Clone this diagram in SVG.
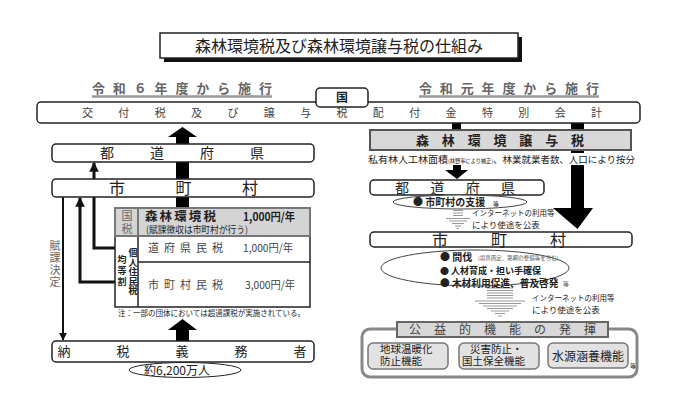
<svg xmlns="http://www.w3.org/2000/svg" width="700" height="402" viewBox="0 0 700 402">
<style>
text{font-family:"Noto Sans CJK JP","Noto Sans CJK SC",sans-serif;fill:#222}
.box{fill:#fff;stroke:#222;stroke-width:1.5}
.gray{fill:#666}
.mid{fill:#444}
.b{font-weight:bold}
.v{writing-mode:vertical-rl}
.stripe{stroke:#999;stroke-width:1}
.thin{fill:none;stroke:#111;stroke-width:2}
.thick{fill:none;stroke:#111;stroke-width:3}
.blk{fill:#000}
.inner{fill:#e2e2e2;stroke:#777;stroke-width:1.5}
</style>
<defs>
<marker id="ah" viewBox="0 0 10 10" refX="9" refY="5" markerWidth="4" markerHeight="4" orient="auto"><path d="M0,0 L10,5 L0,10 z" fill="#111"/></marker>
<marker id="ah2" viewBox="0 0 10 10" refX="9" refY="5" markerWidth="3.2" markerHeight="3.2" orient="auto"><path d="M0,0 L10,5 L0,10 z" fill="#111"/></marker>
</defs>
<rect width="700" height="402" fill="#fff"/>

<g id="title">
<rect x="164" y="37" width="358" height="25" fill="#111"/>
<rect x="160" y="33" width="358" height="25" class="box"/>
<text x="339" y="51.5" font-size="16" text-anchor="middle" fill="#111">森林環境税及び森林環境譲与税の仕組み</text>
</g>

<g id="headings">
<text x="92" y="93" font-size="13" class="gray b" textLength="180" lengthAdjust="spacing">令和６年度から施行</text>
<line x1="92" y1="96.5" x2="272" y2="96.5" stroke="#999" stroke-width="2.5"/>
<text x="419" y="93" font-size="13" class="gray b" textLength="180" lengthAdjust="spacing">令和元年度から施行</text>
<line x1="419" y1="96.5" x2="599" y2="96.5" stroke="#999" stroke-width="2.5"/>
</g>

<g id="connectors">
<polygon class="blk" points="176,208 176,137 168,137 182.5,127 197,137 189,137 189,208"/>
<polygon class="blk" points="176,341 176,330 168,330 182.5,319 197,330 189,330 189,341"/>
<line x1="63" y1="197" x2="63" y2="340" class="thin" marker-end="url(#ah)"/>
<polyline points="115,282 80,282 80,198" class="thick" marker-end="url(#ah2)"/>
<polyline points="115,248 94,248 94,163" class="thick" marker-end="url(#ah2)"/>
<rect x="452" y="123" width="9" height="7" class="blk"/>
<polygon class="blk" points="571,123 584,123 584,208 593,208 577.5,229 553,208 571,208"/>
<polygon class="blk" points="453,164 461,164 461,170 468,170 457,179 445,170 453,170"/>
<g class="stripe">
<line x1="453" y1="208" x2="463" y2="208"/><line x1="453" y1="210.5" x2="463" y2="210.5"/><line x1="453" y1="213" x2="463" y2="213"/><line x1="453" y1="215.5" x2="463" y2="215.5"/>
<line x1="446" y1="218.5" x2="470" y2="218.5"/><line x1="449" y1="221" x2="467" y2="221"/><line x1="452" y1="223.5" x2="464" y2="223.5"/><line x1="455" y1="226" x2="461" y2="226"/><line x1="457" y1="228.5" x2="459" y2="228.5"/>
<line x1="487" y1="288" x2="513" y2="288"/><line x1="487" y1="290.5" x2="513" y2="290.5"/><line x1="487" y1="293" x2="513" y2="293"/><line x1="487" y1="295.5" x2="513" y2="295.5"/><line x1="487" y1="298" x2="513" y2="298"/>
<line x1="475" y1="301" x2="525" y2="301"/><line x1="479" y1="303.5" x2="521" y2="303.5"/><line x1="483" y1="306" x2="517" y2="306"/><line x1="487" y1="308.5" x2="513" y2="308.5"/><line x1="491" y1="311" x2="509" y2="311"/><line x1="495" y1="313.5" x2="505" y2="313.5"/><line x1="498" y1="316" x2="502" y2="316"/>
</g>
</g>

<g id="koufuzei">
<rect x="37" y="102" width="603" height="21" rx="4" class="box"/>
<text x="82" y="117" font-size="11" class="mid" textLength="520" lengthAdjust="spacing">交付税及び譲与税配付金特別会計</text>
</g>
<g id="kuni">
<rect x="316" y="88" width="52" height="19" rx="4" class="box"/>
<text x="342" y="102" font-size="12" text-anchor="middle" class="b">国</text>
</g>

<g id="todoufuken-left">
<rect x="52" y="144" width="262" height="18" rx="4" class="box"/>
<text x="100" y="158" font-size="14" textLength="164" lengthAdjust="spacing">都道府県</text>
</g>
<g id="shichouson-left">
<rect x="52" y="179" width="262" height="18" rx="4" class="box"/>
<text x="109" y="194" font-size="16" textLength="149" lengthAdjust="spacing">市町村</text>
</g>

<g id="fukakettei">
<text x="55" y="240" font-size="11" class="gray v" letter-spacing="1">賦課決定</text>
</g>

<g id="tax-table">
<rect x="115" y="236" width="195" height="71" fill="#fff" stroke="#222" stroke-width="1.5"/>
<line x1="138" y1="236" x2="138" y2="307" stroke="#222" stroke-width="1.5"/>
<line x1="138" y1="262" x2="310" y2="262" stroke="#222" stroke-width="1.5"/>
<rect x="115" y="208" width="195" height="28" fill="#d4d4d4" stroke="#777" stroke-width="2"/>
<line x1="138" y1="208" x2="138" y2="236" stroke="#777" stroke-width="2"/>
<text x="127" y="210" font-size="11" class="gray v" letter-spacing="2">国税</text>
<text x="145" y="221" font-size="12.5" class="b" textLength="71" lengthAdjust="spacing">森林環境税</text>
<text x="243" y="221" font-size="11.5" class="b" textLength="52" lengthAdjust="spacingAndGlyphs">1,000円/年</text>
<text x="146" y="233" font-size="9.5" fill="#333" textLength="102" lengthAdjust="spacingAndGlyphs">(賦課徴収は市町村が行う)</text>
<text x="148" y="252" font-size="11" class="mid" textLength="75" lengthAdjust="spacing">道府県民税</text>
<text x="243" y="252" font-size="11" class="mid" textLength="50" lengthAdjust="spacingAndGlyphs">1,000円/年</text>
<text x="148" y="289" font-size="11" class="mid" textLength="75" lengthAdjust="spacing">市町村民税</text>
<text x="245" y="289" font-size="11" class="mid" textLength="50" lengthAdjust="spacingAndGlyphs">3,000円/年</text>
<text x="133" y="248" font-size="9" class="b v" letter-spacing="0.6">個人住民税</text>
<text x="122" y="255" font-size="9" class="b v" letter-spacing="2">均等割</text>
<text x="118" y="316" font-size="8" fill="#333" textLength="187" lengthAdjust="spacingAndGlyphs">注：一部の団体においては超過課税が実施されている。</text>
</g>

<g id="nouzei">
<rect x="52" y="341" width="262" height="21" rx="4" class="box"/>
<text x="57.5" y="356" font-size="13" textLength="249" lengthAdjust="spacing">納税義務者</text>
<ellipse cx="185" cy="370" rx="56" ry="7.5" fill="#fff" stroke="#222" stroke-width="1"/>
<text x="177" y="374.5" font-size="12" text-anchor="middle">約6,200万人</text>
</g>

<g id="jouyozei">
<rect x="370" y="130" width="261" height="20" fill="#d8d8d8" stroke="#555" stroke-width="2"/>
<text x="416" y="145" font-size="13" class="b" textLength="168" lengthAdjust="spacing">森林環境譲与税</text>
<rect x="366" y="153" width="272" height="12" fill="#fff"/>
<text x="368" y="163" font-size="9.5" textLength="80" lengthAdjust="spacingAndGlyphs">私有林人工林面積</text>
<text x="448" y="163" font-size="5.5" fill="#555" textLength="45" lengthAdjust="spacingAndGlyphs">(林野率により補正)</text>
<text x="493" y="163" font-size="9.5" textLength="142" lengthAdjust="spacingAndGlyphs">、林業就業者数、人口により按分</text>
</g>

<g id="todoufuken-right">
<rect x="370" y="180" width="174" height="15" rx="4" class="box"/>
<text x="395" y="193" font-size="14" textLength="120" lengthAdjust="spacing">都道府県</text>
<ellipse cx="460" cy="202" rx="67" ry="7" fill="#fff" stroke="#444" stroke-width="1"/>
<text x="413" y="206" font-size="10" class="b">● 市町村の支援</text>
<text x="493" y="206" font-size="6" fill="#555">等</text>
<text font-size="8" fill="#555"><tspan x="472" y="216" font-size="7.5">インターネットの利用等</tspan><tspan x="472" y="228" font-size="8.5">により使途を公表</tspan></text>
</g>

<g id="shichouson-right">
<rect x="370" y="232" width="262" height="15" rx="4" class="box"/>
<text x="432" y="246" font-size="16" textLength="134" lengthAdjust="spacing">市町村</text>
<ellipse cx="475" cy="268" rx="94" ry="18" fill="#fff" stroke="#444" stroke-width="1"/>
<text font-size="10" class="b"><tspan x="440" y="261">● 間伐</tspan><tspan x="478" y="260" font-size="5.5" font-weight="normal" fill="#555">(境界画定、路網の整備等を含む)</tspan><tspan x="440" y="274" font-size="9">● 人材育成・担い手確保</tspan><tspan x="440" y="286.5" font-size="9.7">● 木材利用促進、普及啓発</tspan><tspan x="563" y="286" font-size="6" font-weight="normal" fill="#555">等</tspan></text>
<text font-size="8" fill="#555"><tspan x="532" y="301" font-size="7.5">インターネットの利用等</tspan><tspan x="532" y="313" font-size="8.5">により使途を公表</tspan></text>
</g>

<g id="koueki">
<rect x="362" y="329" width="275" height="48" rx="8" fill="#fff" stroke="#888" stroke-width="3"/>
<rect x="397" y="322" width="211" height="15" fill="#d8d8d8" stroke="#666" stroke-width="2"/>
<text x="409" y="334" font-size="12" class="mid" textLength="187" lengthAdjust="spacing">公益的機能の発揮</text>
</g>
<g id="chikyu">
<rect x="368" y="343" width="80" height="26" rx="5" class="inner"/>
<text font-size="10.5" fill="#555"><tspan x="380" y="353">地球温暖化</tspan><tspan x="380" y="365">防止機能</tspan></text>
</g>
<g id="saigai">
<rect x="459" y="343" width="80" height="26" rx="5" class="inner"/>
<text font-size="10.5" fill="#555"><tspan x="470" y="353">災害防止・</tspan><tspan x="462" y="365">国土保全機能</tspan></text>
</g>
<g id="suigen">
<rect x="548" y="343" width="80" height="25" rx="5" class="inner"/>
<text x="588" y="361" font-size="12" text-anchor="middle" fill="#555">水源涵養機能</text>
<text x="630" y="368" font-size="6" fill="#555">等</text>
</g>
</svg>
